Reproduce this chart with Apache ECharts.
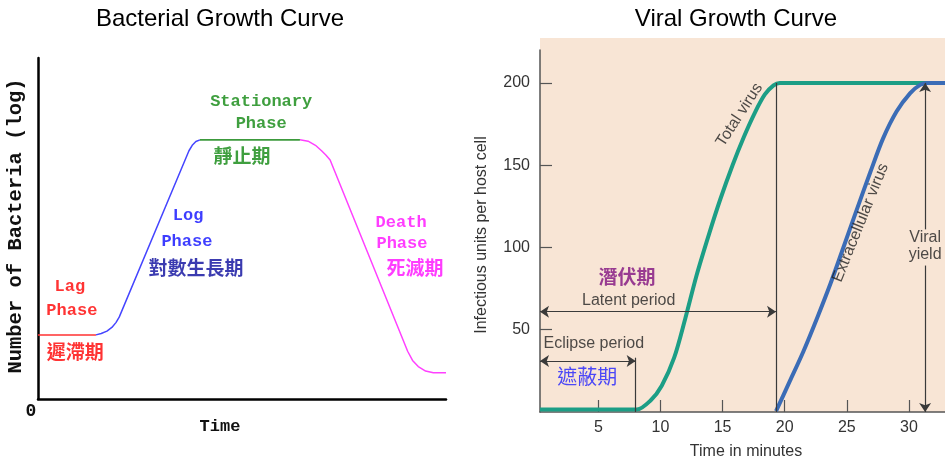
<!DOCTYPE html>
<html><head><meta charset="utf-8">
<script src="https://cdn.jsdelivr.net/npm/echarts@6/dist/echarts.min.js"></script>
<style>html,body{margin:0;padding:0;background:#fff}#c{width:945px;height:460px}</style>
</head><body><div id="c"></div>
<script>
// ---------- Bacterial growth curve (time 0..100, log count 0..100) ----------
const lagPhase = [[0,18.8],[14.2,18.8]];
const logPhase = [[14.2,18.8],[15.5,19.2],[16.9,19.9],[18.1,21.0],[19.1,22.4],[19.9,24.0],[37.0,72.8],[37.8,74.4],[38.7,75.5],[39.7,76.0]];
const stationaryPhase = [[39.7,76.0],[64.2,76.0]];
const deathPhase = [[64.2,76.0],[66.2,75.6],[68.0,74.4],[69.5,72.8],[70.6,71.5],[71.6,70.1],[90.6,14.0],[91.8,11.3],[93.2,9.5],[95.0,8.2],[96.9,7.7],[100,7.7]];

// ---------- Viral growth curve (minutes, infectious units per host cell) ----------
const totalVirus = [[0.3,1.5],[7.2,1.5],[8.1,1.5],[9.2,7],[10.1,16],[11.1,33],[12.0,57],[12.9,83],[13.9,108],[14.8,129],[15.8,150],[16.7,167],[17.6,182],[18.4,193],[19.1,198.5],[19.6,200],[20.5,200],[32.9,200]];
const extracellularVirus = [[19.3,0.5],[20.4,18.6],[21.5,36.8],[22.6,57],[23.7,78.4],[24.7,99.5],[25.8,123],[26.9,146],[27.9,166],[29.0,182.6],[30.1,193.8],[30.9,198.8],[31.5,200],[32.2,200],[32.9,200]];
const xTickValues = [5,10,15,20,25,30];
const yTickValues = [50,100,150,200];
const eclipseEnd = 8.0, latentEnd = 19.3, yieldTime = 31.3;
const latentLevel = 61, eclipseLevel = 31;

// ---------- annotation texts ----------
const MONO = '"Liberation Mono","Courier New",monospace';
const CJK = '"Noto Sans CJK TC","Noto Sans CJK SC",sans-serif';
const SANS = '"Liberation Sans",Arial,sans-serif';
const bactLabels = [
  {t:'Lag', x:7.8, y:32.8, c:'#ff0000', f:MONO, s:17},
  {t:'Phase', x:8.3, y:25.8, c:'#ff0000', f:MONO, s:17},
  {t:'遲滯期', x:9.1, y:13.8, c:'#ff0000', f:CJK, s:19},
  {t:'Log', x:36.8, y:53.7, c:'#0c0cff', f:MONO, s:17},
  {t:'Phase', x:36.5, y:46.0, c:'#0c0cff', f:MONO, s:17},
  {t:'對數生長期', x:38.7, y:38.4, c:'#0a0a9c', f:CJK, s:19},
  {t:'Stationary', x:54.7, y:87.1, c:'#0f870f', f:MONO, s:17},
  {t:'Phase', x:54.7, y:80.6, c:'#0f870f', f:MONO, s:17},
  {t:'靜止期', x:50.0, y:71.3, c:'#0f870f', f:CJK, s:19},
  {t:'Death', x:89.0, y:51.6, c:'#ff0cff', f:MONO, s:17},
  {t:'Phase', x:89.2, y:45.5, c:'#ff0cff', f:MONO, s:17},
  {t:'死滅期', x:92.4, y:38.4, c:'#ff0cff', f:CJK, s:19}
];
const viralLabels = [
  {t:'潛伏期', x:7.3, y:82.4, c:'#80107f', f:CJK, s:19, w:'bold'},
  {t:'Latent period', x:7.44, y:67.6, c:'#222', f:SANS, s:16},
  {t:'Eclipse period', x:4.63, y:41.3, c:'#222', f:SANS, s:16},
  {t:'遮蔽期', x:4.1, y:21.6, c:'#2020ff', f:CJK, s:20},
  {t:'Viral\nyield', x:31.3, y:100.6, c:'#222', f:SANS, s:16},
  {t:'Total virus', x:16.36, y:180.6, c:'#222', f:SANS, s:16, r:57},
  {t:'Extracellular virus', x:26.1, y:115.0, c:'#222', f:SANS, s:16, r:68}
];

function textSeries(xi, labels, defWeight) {
  return {
    type:'scatter', xAxisIndex:xi, yAxisIndex:xi, symbolSize:1, silent:true, z:6, clip:false,
    itemStyle:{color:'rgba(0,0,0,0)'},
    data: labels.map(l => ({
      value:[l.x, l.y],
      label:{show:true, position:'inside', formatter:l.t, color:l.c, fontFamily:l.f, fontSize:l.s,
             fontWeight:l.w || defWeight, rotate:l.r || 0, lineHeight:17}
    }))
  };
}

function txt(x, y, text, font, fill, rot) {
  return {type:'text', x:x, y:y, rotation:rot || 0,
    style:{text:text, align:'center', verticalAlign:'middle', textAlign:'center', textVerticalAlign:'middle', font:font, fill:fill}};
}

const AX = '#555';
const chart = echarts.init(document.getElementById('c'));
chart.setOption({
  animation:false,
  backgroundColor:'#fff',
  grid:[
    {left:38, top:58, width:408, height:341},
    {left:540, top:50, width:405, height:362}
  ],
  xAxis:[
    {gridIndex:0, type:'value', min:0, max:100, axisLine:{show:true, lineStyle:{color:'#000', width:2.5}}, axisTick:{show:false}, axisLabel:{show:false}, splitLine:{show:false}},
    {gridIndex:1, type:'value', min:0.3, max:32.9,
      axisLine:{show:true, onZero:false, lineStyle:{color:AX, width:1.5}},
      axisTick:{show:true, inside:true, length:12, lineStyle:{color:AX, width:1.2}, customValues:xTickValues},
      axisLabel:{show:true, color:'#333', fontSize:16, fontFamily:SANS, margin:8, customValues:xTickValues},
      splitLine:{show:false}}
  ],
  yAxis:[
    {gridIndex:0, type:'value', min:0, max:100, axisLine:{show:true, lineStyle:{color:'#000', width:2.5}}, axisTick:{show:false}, axisLabel:{show:false}, splitLine:{show:false}},
    {gridIndex:1, type:'value', min:0, max:220,
      axisLine:{show:true, onZero:false, lineStyle:{color:AX, width:1.5}},
      axisTick:{show:true, inside:true, length:12, lineStyle:{color:AX, width:1.2}, customValues:yTickValues},
      axisLabel:{show:true, color:'#333', fontSize:16, fontFamily:SANS, margin:10, customValues:yTickValues},
      splitLine:{show:false}}
  ],
  graphic:[
    {type:'rect', z:-10, shape:{x:540, y:38, width:405, height:374}, style:{fill:'#f8e5d5'}},
    txt(220, 19, 'Bacterial Growth Curve', '24px '+SANS, '#000'),
    txt(736, 19, 'Viral Growth Curve', '24px '+SANS, '#000'),
    txt(16, 226, 'Number of Bacteria (log)', 'bold 20.5px '+MONO, '#111', Math.PI/2),
    txt(220, 427, 'Time', 'bold 17px '+MONO, '#111'),
    txt(31, 411, '0', 'bold 18px '+MONO, '#111'),
    txt(482, 235, 'Infectious units per host cell', '16px '+SANS, '#333', Math.PI/2),
    txt(746, 452, 'Time in minutes', '16px '+SANS, '#333')
  ],
  series:[
    {type:'line', xAxisIndex:0, yAxisIndex:0, data:lagPhase, symbol:'none', lineStyle:{color:'#ff3030', width:1.5}},
    {type:'line', xAxisIndex:0, yAxisIndex:0, data:logPhase, symbol:'none', lineStyle:{color:'#4545ff', width:1.5}},
    {type:'line', xAxisIndex:0, yAxisIndex:0, data:stationaryPhase, symbol:'none', lineStyle:{color:'#3c9a3c', width:1.8}},
    {type:'line', xAxisIndex:0, yAxisIndex:0, data:deathPhase, symbol:'none', lineStyle:{color:'#ff40ff', width:1.5}},
    {type:'line', xAxisIndex:1, yAxisIndex:1, data:totalVirus, symbol:'none', smooth:0.3, z:4,
      lineStyle:{color:'#1c9e86', width:4},
      markLine:{silent:true, symbolSize:9, label:{show:false}, lineStyle:{color:'#3a3a3a', width:1.2, type:'solid'},
        data:[
          [{coord:[0.3, latentLevel], symbol:'arrow'}, {coord:[latentEnd, latentLevel], symbol:'arrow'}],
          [{coord:[0.3, eclipseLevel], symbol:'arrow'}, {coord:[eclipseEnd, eclipseLevel], symbol:'arrow'}],
          [{coord:[latentEnd, 0], symbol:'none'}, {coord:[latentEnd, 200], symbol:'none'}],
          [{coord:[eclipseEnd, 0], symbol:'none'}, {coord:[eclipseEnd, 33], symbol:'none'}],
          [{coord:[yieldTime, 111], symbol:'none'}, {coord:[yieldTime, 200], symbol:'arrow'}],
          [{coord:[yieldTime, 89], symbol:'none'}, {coord:[yieldTime, 0], symbol:'arrow'}]
        ]}},
    {type:'line', xAxisIndex:1, yAxisIndex:1, data:extracellularVirus, symbol:'none', smooth:0.3, z:4,
      lineStyle:{color:'#3b6cb6', width:4}},
    textSeries(0, bactLabels, 'bold'),
    textSeries(1, viralLabels, 'normal')
  ]
});
</script></body></html>
